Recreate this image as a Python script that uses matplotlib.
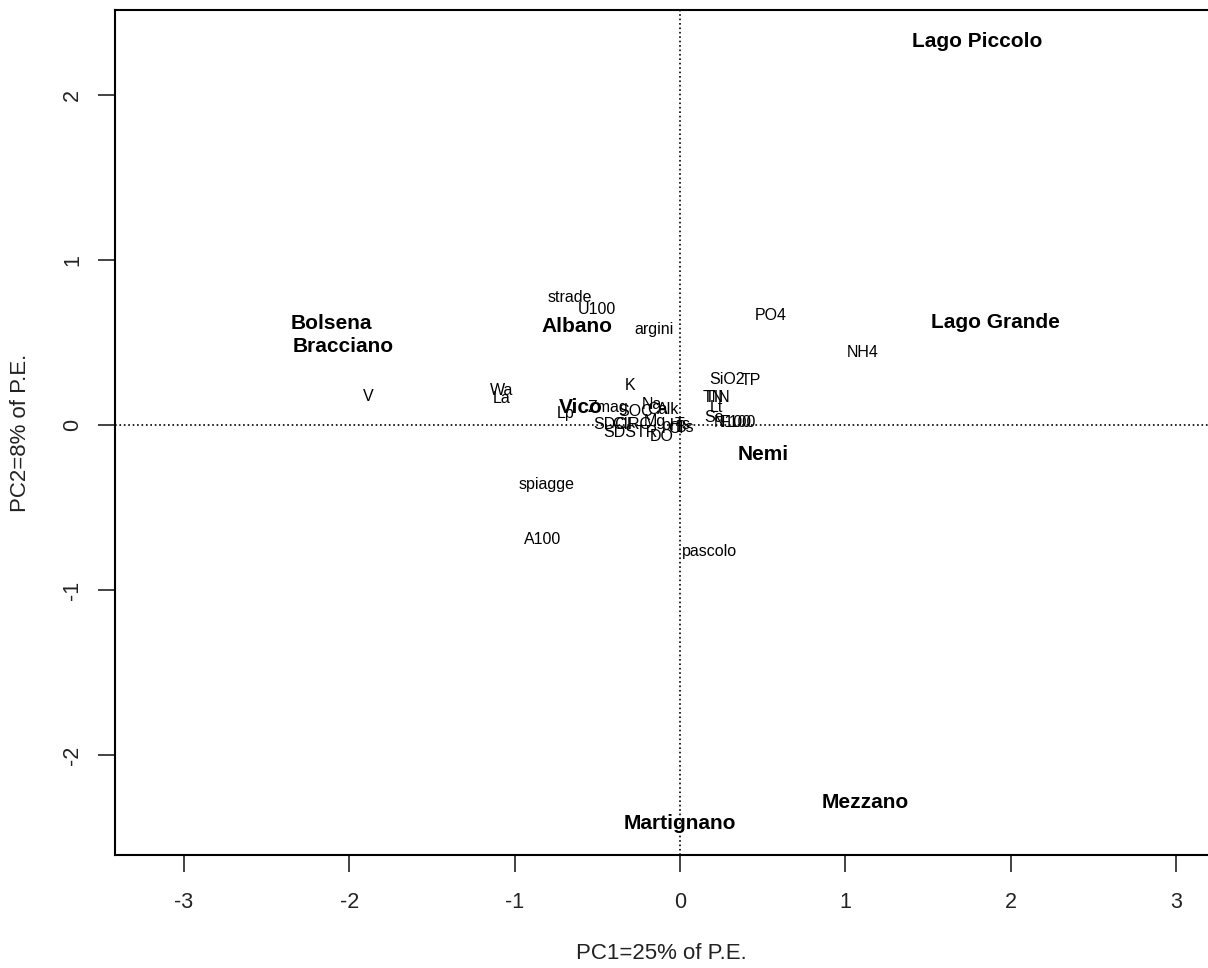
import matplotlib
matplotlib.use('Agg')
import matplotlib.pyplot as plt

# lakes (sites) on the first two principal components
site_names = ['Lago Piccolo', 'Lago Grande', 'Bolsena', 'Bracciano', 'Albano',
              'Vico', 'Nemi', 'Mezzano', 'Martignano']
site_x = [1.796, 1.911, -2.111, -2.038, -0.623, -0.599, 0.502, 1.119, 0.0]
site_y = [2.327, 0.624, 0.618, 0.473, 0.594, 0.103, -0.176, -2.285, -2.418]

# variables
var_names = ['strade', 'U100', 'argini', 'PO4', 'NH4', 'V', 'Wa', 'La', 'K',
             'SiO2', 'TP', 'TN', 'TIN', 'Lt', 'Sa', 'N100', 'F100', 'spiagge',
             'A100', 'pascolo', 'Lp', 'Zmag', 'SOC', 'Na', 'Ca', 'Alk', 'SDCI',
             'CIRC', 'Mg', 'SDSTR', 'DO', 'pH', 'Cl', 'Ts', 'Bs']
var_x = [-0.665, -0.502, -0.157, 0.550, 1.107, -1.887, -1.077, -1.077, -0.302,
         0.284, 0.429, 0.200, 0.224, 0.218, 0.206, 0.321, 0.351, -0.804,
         -0.829, 0.181, -0.690, -0.435, -0.266, -0.169, -0.139, -0.073, -0.411,
         -0.290, -0.151, -0.302, -0.109, -0.048, -0.024, 0.018, 0.030]
var_y = [0.770, 0.697, 0.576, 0.661, 0.442, 0.170, 0.212, 0.158, 0.242,
         0.273, 0.267, 0.164, 0.164, 0.103, 0.048, 0.018, 0.018, -0.358,
         -0.691, -0.764, 0.067, 0.103, 0.079, 0.127, 0.091, 0.091, 0.0,
         0.006, 0.024, -0.048, -0.067, -0.006, -0.024, 0.0, -0.018]

x_ticks = [-3, -2, -1, 0, 1, 2, 3]
y_ticks = [-2, -1, 0, 1, 2]

plt.rcParams['font.family'] = ['Liberation Sans', 'DejaVu Sans']

fig = plt.figure(figsize=(12.08, 9.68), dpi=100)
ax = fig.add_axes([115 / 1208, 113 / 968, 1 - 115 / 1208, 845 / 968])

ax.axhline(0, color='black', linestyle=':', linewidth=1.2)
ax.axvline(0, color='black', linestyle=':', linewidth=1.2)

for name, x, y in zip(var_names, var_x, var_y):
    ax.text(x, y, name, ha='center', va='center', fontsize=11.5)
for name, x, y in zip(site_names, site_x, site_y):
    ax.text(x, y, name, ha='center', va='center', fontsize=15, fontweight='bold')

ax.set_xlim(-3.417, 3.194)
ax.set_ylim(-2.606, 2.515)
ax.set_xticks(x_ticks)
ax.set_yticks(y_ticks)
ax.set_xticklabels([str(v) for v in x_ticks])
ax.set_yticklabels([str(v) for v in y_ticks], rotation=90, va='center')
ax.tick_params(direction='out', length=12, width=1.2, labelsize=15.5,
               colors='#222222')
ax.tick_params(axis='x', pad=15)
ax.tick_params(axis='y', pad=11)
for side in ('left', 'top', 'bottom'):
    ax.spines[side].set_linewidth(1.5)
ax.spines['right'].set_visible(False)

ax.set_xlabel('PC1=25% of P.E.', fontsize=16, labelpad=21, color='#222222')
ax.set_ylabel('PC2=8% of P.E.', fontsize=16, labelpad=22, color='#222222')

fig.savefig('out.png', dpi=100, facecolor='white')
